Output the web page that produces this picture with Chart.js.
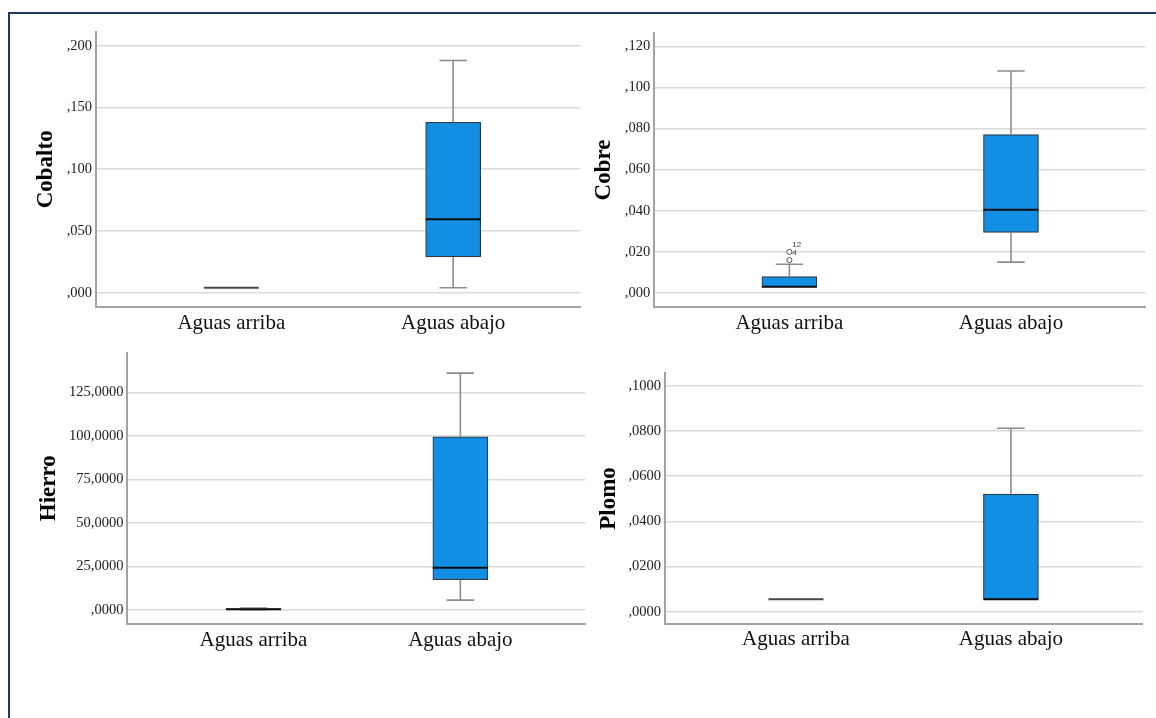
<!DOCTYPE html>
<html>
<head>
<meta charset="utf-8">
<script src="https://cdn.jsdelivr.net/npm/chart.js@4/dist/chart.umd.min.js"></script>
<style>
  html, body { margin: 0; padding: 0; background: #fff; }
  body { width: 1156px; height: 718px; position: relative; overflow: hidden; }
  .frame { position: absolute; left: 8px; top: 12px; right: -4px; bottom: -4px;
           border-left: 2px solid #1f3864; border-top: 2px solid #1f3864; }
  .panel { position: absolute; }
</style>
</head>
<body>
<div class="frame"></div>
<canvas id="cobalto" class="panel"></canvas>
<canvas id="cobre" class="panel"></canvas>
<canvas id="hierro" class="panel"></canvas>
<canvas id="plomo" class="panel"></canvas>
<script>
// Groups compared in every panel
const categories = ['Aguas arriba', 'Aguas abajo'];

// Five-number summaries per group: [min, Q1, median, Q3, max]
const cobaltoArriba = [0.004, 0.004, 0.004, 0.004, 0.004];
const cobaltoAbajo  = [0.004, 0.029, 0.0595, 0.138, 0.188];

const cobreArriba = [0.003, 0.003, 0.003, 0.008, 0.014];
const cobreAbajo  = [0.015, 0.0295, 0.0405, 0.077, 0.108];
// Outlying cases of "Aguas arriba" (copper) and their case numbers
const cobreOutlierValues = [0.016, 0.020];
const cobreOutlierIds    = ['4', '12'];

const hierroArriba = [0.2, 0.3, 0.5, 0.9, 1.1];
const hierroAbajo  = [5.7, 17.4, 24.3, 99.4, 136.0];

const plomoArriba = [0.0055, 0.0055, 0.0055, 0.0055, 0.0055];
const plomoAbajo  = [0.0055, 0.0055, 0.0055, 0.052, 0.0812];

// Y tick values and their printed labels
const cobaltoTicks  = [0, 0.05, 0.10, 0.15, 0.20];
const cobaltoLabels = [',000', ',050', ',100', ',150', ',200'];
const cobreTicks  = [0, 0.02, 0.04, 0.06, 0.08, 0.10, 0.12];
const cobreLabels = [',000', ',020', ',040', ',060', ',080', ',100', ',120'];
const hierroTicks  = [0, 25, 50, 75, 100, 125];
const hierroLabels = [',0000', '25,0000', '50,0000', '75,0000', '100,0000', '125,0000'];
const plomoTicks  = [0, 0.02, 0.04, 0.06, 0.08, 0.10];
const plomoLabels = [',0000', ',0200', ',0400', ',0600', ',0800', ',1000'];

const SERIF = '"Liberation Serif", "Times New Roman", Times, serif';
const BOX_FILL = '#128ee5';
const BOX_EDGE = '#2e3b47';
const WHISKER = '#8c8c8c';
const GRID = '#dadada';
const AXIS = '#a3a3a3';
const BOX_W = 55;
const TITLE_SIZE = 23;

// Whiskers, caps, medians and outliers drawn on top of the floating-bar boxes
function boxPlugin(groups, outliers) {
  return {
    id: 'boxWhiskers',
    afterDatasetsDraw(chart) {
      const ctx = chart.ctx, xs = chart.scales.x, ys = chart.scales.y;
      const py = v => ys.getPixelForValue(v);
      ctx.save();
      groups.forEach((g, i) => {
        const [mn, q1, md, q3, mx] = g;
        const x = xs.getPixelForValue(i + 1);
        const half = BOX_W / 2, cap = 13.7;
        ctx.strokeStyle = WHISKER;
        ctx.lineWidth = 1.6;
        if (mx > q3) {
          ctx.beginPath();
          ctx.moveTo(x, py(q3)); ctx.lineTo(x, py(mx));
          ctx.moveTo(x - cap, py(mx)); ctx.lineTo(x + cap, py(mx));
          ctx.stroke();
        }
        if (mn < q1) {
          ctx.beginPath();
          ctx.moveTo(x, py(q1)); ctx.lineTo(x, py(mn));
          ctx.moveTo(x - cap, py(mn)); ctx.lineTo(x + cap, py(mn));
          ctx.stroke();
        }
        ctx.beginPath();
        ctx.strokeStyle = q3 > q1 ? '#0d0d0d' : '#474747';
        ctx.lineWidth = 2;
        ctx.moveTo(x - half, py(md)); ctx.lineTo(x + half, py(md));
        ctx.stroke();
      });
      if (outliers) {
        const x = xs.getPixelForValue(outliers.group + 1);
        ctx.font = '8px "Liberation Sans", Arial, sans-serif';
        ctx.textAlign = 'left';
        ctx.textBaseline = 'middle';
        outliers.values.forEach((v, k) => {
          const y = py(v);
          ctx.beginPath();
          ctx.arc(x, y, 2.6, 0, Math.PI * 2);
          ctx.fillStyle = '#fff';
          ctx.fill();
          ctx.strokeStyle = '#555';
          ctx.lineWidth = 1;
          ctx.stroke();
          ctx.fillStyle = '#444';
          ctx.fillText(outliers.ids[k], x + 3, y - 7.5);
        });
      }
      ctx.restore();
    }
  };
}

// geo: canvas box, plot area box, title offset, x range
function makePanel(id, geo, title, groups, ticks, labels, yMin, yMax, xMin, xMax, outliers) {
  const cv = document.getElementById(id);
  cv.style.left = geo.L + 'px';
  cv.style.top = geo.T + 'px';
  cv.width = geo.W; cv.height = geo.H;
  cv.style.width = geo.W + 'px'; cv.style.height = geo.H + 'px';

  const boxData = groups
    .map((g, i) => ({ x: i + 1, y: [g[1], g[3]] }))
    .filter((d, i) => groups[i][3] > groups[i][1]);

  return new Chart(cv, {
    type: 'bar',
    data: {
      datasets: [{
        data: boxData,
        backgroundColor: BOX_FILL,
        borderColor: BOX_EDGE,
        borderWidth: 1.2,
        borderSkipped: false,
        barThickness: BOX_W
      }]
    },
    options: {
      responsive: false,
      animation: false,
      events: [],
      layout: { padding: { left: 0, top: geo.top - geo.T, right: geo.L + geo.W - geo.right, bottom: 0 } },
      plugins: { legend: { display: false }, tooltip: { enabled: false } },
      scales: {
        x: {
          type: 'linear',
          offset: false,
          min: xMin, max: xMax,
          afterBuildTicks: s => { s.ticks = categories.map((c, i) => ({ value: i + 1 })); },
          afterFit: s => { s.height = geo.T + geo.H - geo.bottom; },
          grid: { display: true, drawOnChartArea: false, drawTicks: false, offset: false },
          border: { display: true, color: AXIS, width: 2 },
          ticks: {
            padding: geo.xPad,
            autoSkip: false, maxRotation: 0,
            color: '#111',
            font: { family: SERIF, size: 21 },
            callback: (v, i) => categories[i]
          }
        },
        y: {
          type: 'linear',
          min: yMin, max: yMax,
          afterBuildTicks: s => { s.ticks = ticks.map(v => ({ value: v })); },
          afterFit: s => { s.width = geo.left - geo.L; },
          grid: { color: GRID, lineWidth: 1.5, drawTicks: false },
          border: { display: true, color: AXIS, width: 2 },
          ticks: {
            padding: 4,
            color: '#222',
            font: { family: SERIF, size: 14.5 },
            callback: (v, i) => labels[i]
          },
          title: {
            display: true,
            text: title,
            color: '#000',
            font: { family: SERIF, size: TITLE_SIZE, weight: 'bold' },
            padding: { top: geo.titleX - geo.L - TITLE_SIZE * 0.6, bottom: 0 }
          }
        }
      }
    },
    plugins: [boxPlugin(groups, outliers)]
  });
}

makePanel('cobalto',
  { L: 0, T: 0, W: 592, H: 345, left: 96, top: 32, right: 580.5, bottom: 306.7, titleX: 46, xPad: 4 },
  'Cobalto', [cobaltoArriba, cobaltoAbajo], cobaltoTicks, cobaltoLabels,
  -0.01134, 0.2111, 0.390, 2.574);

makePanel('cobre',
  { L: 582, T: 0, W: 574, H: 345, left: 654.2, top: 33.3, right: 1145.7, bottom: 306.7, titleX: 604.4, xPad: 4 },
  'Cobre', [cobreArriba, cobreAbajo], cobreTicks, cobreLabels,
  -0.00666, 0.12632, 0.390, 2.608,
  { group: 0, values: cobreOutlierValues, ids: cobreOutlierIds });

makePanel('hierro',
  { L: 0, T: 340, W: 592, H: 330, left: 127.4, top: 352, right: 585.5, bottom: 623.7, titleX: 49, xPad: 4 },
  'Hierro', [hierroArriba, hierroAbajo], hierroTicks, hierroLabels,
  -7.84, 147.7, 0.3905, 2.605);

makePanel('plomo',
  { L: 582, T: 340, W: 574, H: 330, left: 665, top: 373, right: 1142.5, bottom: 624, titleX: 608.6, xPad: 3 },
  'Plomo', [plomoArriba, plomoAbajo], plomoTicks, plomoLabels,
  -0.00544, 0.10562, 0.391, 2.612);
</script>
</body>
</html>
